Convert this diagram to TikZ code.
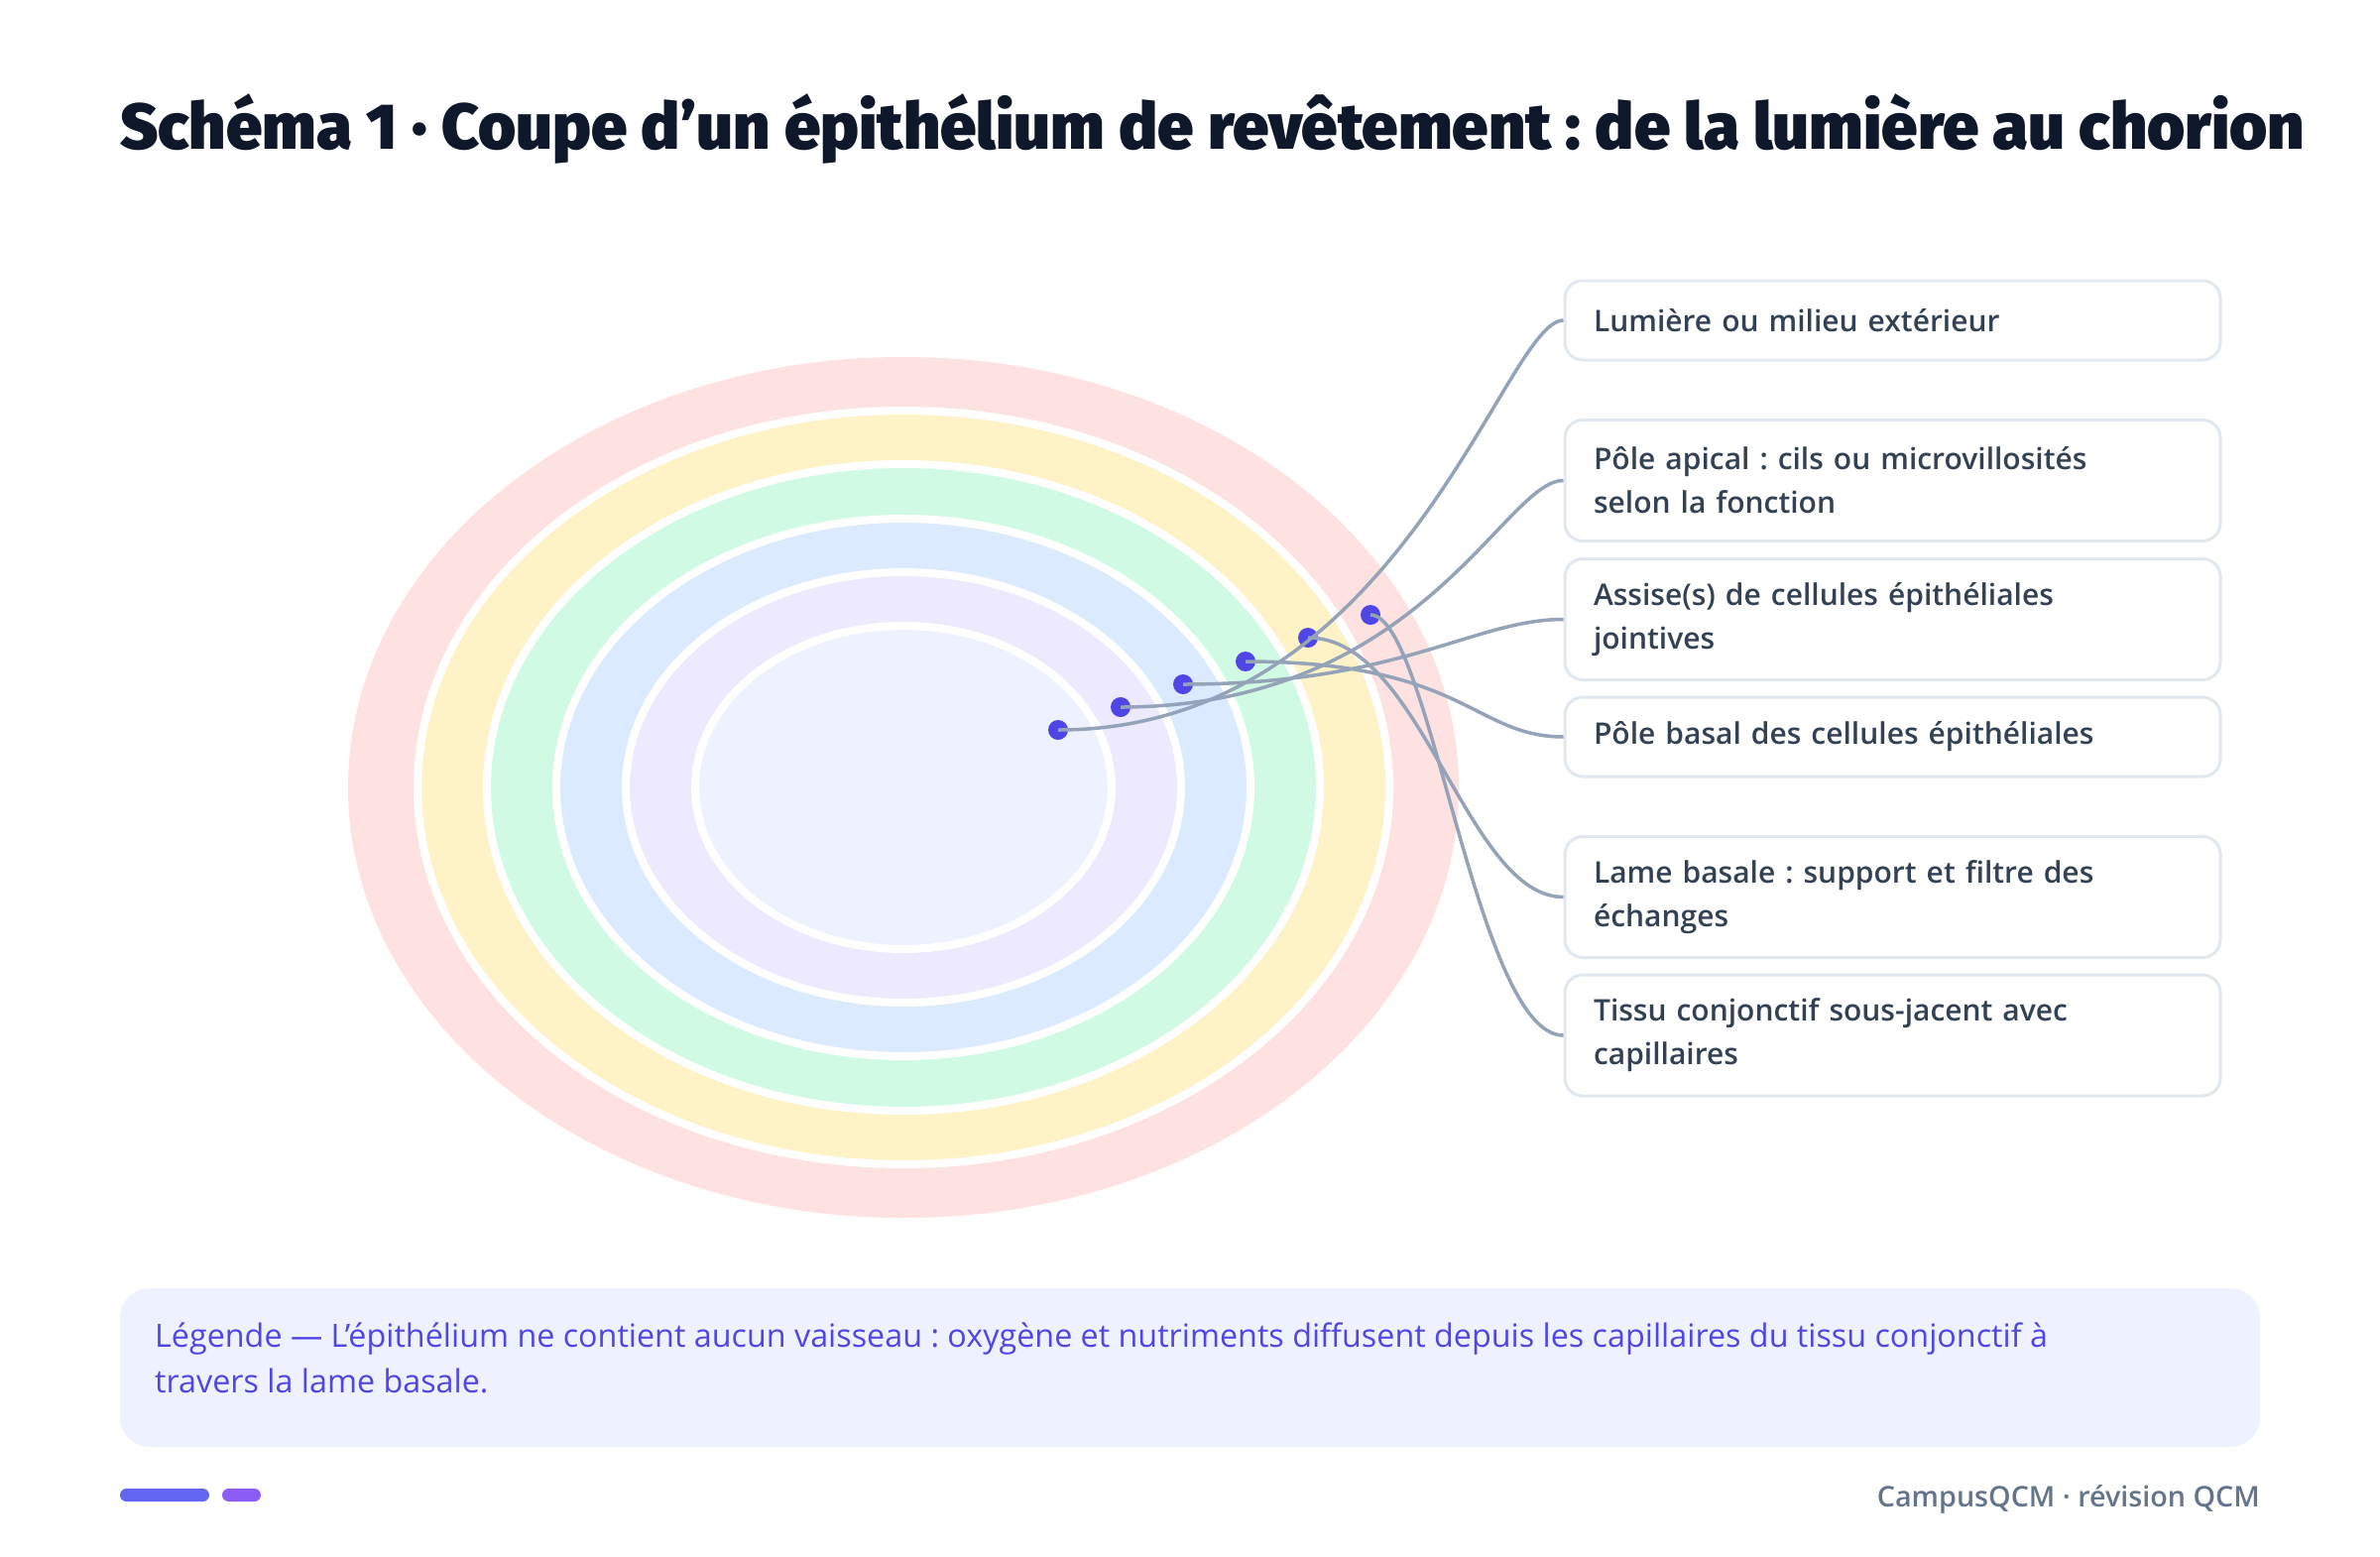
\documentclass[tikz,border=0pt]{standalone}
\usepackage{graphicx}
\usepackage{fontspec}
\setmainfont{Open Sans}
\frenchspacing
\IfFontExistsTF{Open Sans Semibold}{\newfontfamily\lblfontA{Open Sans Semibold}\newcommand\labelfont{\lblfontA}}{%
 \IfFontExistsTF{Open Sans SemiBold}{\newfontfamily\lblfontA{Open Sans SemiBold}\newcommand\labelfont{\lblfontA}}{%
  \IfFontExistsTF{Noto Sans SemiBold}{\newfontfamily\lblfontA{Noto Sans SemiBold}\newcommand\labelfont{\lblfontA}}{\newcommand\labelfont{\bfseries}}}}
\newfontfamily\firaA{Fira Sans}
\IfFontExistsTF{Fira Sans Black}{\newfontfamily\ttlfontA{Fira Sans Black}\newcommand\titlefont{\ttlfontA}}{\IfFontExistsTF{Fira Sans Heavy}{\newfontfamily\ttlfontA{Fira Sans Heavy}\newcommand\titlefont{\ttlfontA}}{\newcommand\titlefont{\firaA\bfseries}}}
\definecolor{titlec}{HTML}{0F172A}
\definecolor{cpink}{HTML}{FEE2E2}
\definecolor{cyellow}{HTML}{FEF3C7}
\definecolor{cgreen}{HTML}{D1FAE5}
\definecolor{cblue}{HTML}{DBEAFE}
\definecolor{clav}{HTML}{EDE9FE}
\definecolor{cinner}{HTML}{EEF2FF}
\definecolor{cdot}{HTML}{4F46E5}
\definecolor{cline}{HTML}{94A3B8}
\definecolor{cborder}{HTML}{E2E8F0}
\definecolor{clabel}{HTML}{334155}
\definecolor{clegbg}{HTML}{EEF2FF}
\definecolor{clegend}{HTML}{4F46E5}
\definecolor{cfoot}{HTML}{64748B}
\definecolor{cpillA}{HTML}{6366F1}
\definecolor{cpillB}{HTML}{8B5CF6}
\begin{document}
\begin{tikzpicture}[x=1pt,y=-1pt,
  lbl/.style={draw=cborder, line width=3, fill=white, rounded corners=18,
    text width=603, align=left, inner xsep=29, inner ysep=0,
    font=\labelfont\fontsize{30}{44}\selectfont, text=clabel},
  dotst/.style={circle, fill=cdot, inner sep=0, minimum size=20},
  conn/.style={draw=cline, line width=3.5},
  ring/.style={draw=white, line width=8},
  legtext/.style={anchor=base west, inner sep=0, text=clegend, font=\fontsize{32.3}{44}\selectfont},
  pill/.style={rounded corners=6.5, inner sep=0, minimum height=13}]
\useasboundingbox (0,0) rectangle (2400,1569);
\fill[white] (0,0) rectangle (2400,1569);

% title
\node[anchor=base west, inner sep=0, text=titlec] (title) at (121,150)
  {\resizebox{2202pt}{!}{\titlefont Schéma 1 · Coupe d’un épithélium de revêtement : de la lumière au chorion}};

% concentric layers
\fill[cpink] (911,794) ellipse [x radius=560, y radius=434];
\filldraw[fill=cyellow, ring] (911,794) ellipse [x radius=490, y radius=380];
\filldraw[fill=cgreen, ring] (911,794) ellipse [x radius=420, y radius=326];
\filldraw[fill=cblue, ring] (911,794) ellipse [x radius=350, y radius=271];
\filldraw[fill=clav, ring] (911,794) ellipse [x radius=280, y radius=217];
\filldraw[fill=cinner, ring] (911,794) ellipse [x radius=210, y radius=163];

% labels
\node[lbl, minimum height=80] (b1) at (1908.5,323) {Lumière ou milieu extérieur};
\node[lbl, minimum height=122] (b2) at (1908.5,484.5) {Pôle apical : cils ou microvillosités\\selon la fonction};
\node[lbl, minimum height=122] (b3) at (1908.5,624.5) {Assise(s) de cellules épithéliales\\jointives};
\node[lbl, minimum height=80] (b4) at (1908.5,743) {Pôle basal des cellules épithéliales};
\node[lbl, minimum height=122] (b5) at (1908.5,904.5) {Lame basale : support et filtre des\\échanges};
\node[lbl, minimum height=122] (b6) at (1908.5,1044) {Tissu conjonctif sous-jacent avec\\capillaires};

% dots
\node[dotst] (d1) at (1067,736) {};
\node[dotst] (d2) at (1130,713) {};
\node[dotst] (d3) at (1193,690) {};
\node[dotst] (d4) at (1256,667) {};
\node[dotst] (d5) at (1319,643) {};
\node[dotst] (d6) at (1382,620) {};

% connectors
\draw[conn] (d1.center) .. controls +(346,0) and +(-60,0) .. (b1.west);
\draw[conn] (d2.center) .. controls +(303,0) and +(-60,0) .. (b2.west);
\draw[conn] (d3.center) .. controls +(220,0) and +(-90,0) .. (b3.west);
\draw[conn] (d4.center) .. controls +(220,0) and +(-90,0) .. (b4.west);
\draw[conn] (d5.center) .. controls +(115,0) and +(-98,0) .. (b5.west);
\draw[conn] (d6.center) .. controls +(60,0) and +(-88,0) .. (b6.west);

% legend
\node[fill=clegbg, rounded corners=30, minimum width=2158, minimum height=160, inner sep=0] (leg) at (1200,1379) {};
\node[legtext] (leg1) at (156,1358) {Légende — L’épithélium ne contient aucun vaisseau : oxygène et nutriments diffusent depuis les capillaires du tissu conjonctif à};
\node[legtext] (leg2) at (156,1404) {travers la lame basale.};

% footer
\node[pill, fill=cpillA, minimum width=90] (p1) at (166,1507.5) {};
\node[pill, fill=cpillB, minimum width=39] (p2) at (243.5,1507.5) {};
\node[anchor=base east, inner sep=0, text=cfoot, font=\labelfont\fontsize{28.7}{34}\selectfont] (foot) at (2279,1519) {CampusQCM · révision QCM};
\end{tikzpicture}
\end{document}
